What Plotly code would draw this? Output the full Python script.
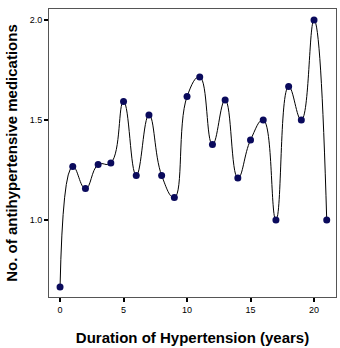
import plotly.graph_objects as go

years = [0, 1, 2, 3, 4, 5, 6, 7, 8, 9, 10, 11, 12, 13, 14, 15, 16, 17, 18, 19, 20, 21]
meds = [0.665, 1.267, 1.157, 1.277, 1.285, 1.592, 1.223, 1.525, 1.223, 1.112, 1.617,
        1.715, 1.377, 1.600, 1.210, 1.400, 1.500, 1.000, 1.667, 1.500, 2.000, 1.000]
x_ticks = [0, 5, 10, 15, 20]
y_ticks = [1.0, 1.5, 2.0]

fig = go.Figure()
fig.add_trace(go.Scatter(
    x=years, y=meds, mode="lines",
    line=dict(color="black", width=1, shape="spline", smoothing=1.3),
    hoverinfo="skip", showlegend=False))
fig.add_trace(go.Scatter(
    x=years, y=meds, mode="markers",
    marker=dict(color="#0a0a5c", size=7, line=dict(width=0)),
    showlegend=False))

axis_common = dict(
    showgrid=False, zeroline=False, showline=True, linecolor="#555555", linewidth=1,
    mirror=True, ticks="outside", ticklen=4, tickcolor="black", tickwidth=2,
    tickfont=dict(family="Liberation Sans, Arial", size=9, color="black"),
)
fig.update_xaxes(range=[-0.87, 21.73], tickvals=x_ticks,
                 title=dict(text="<b>Duration of Hypertension (years)</b>",
                            font=dict(family="Liberation Sans, Arial", size=15, color="black"),
                            standoff=18),
                 **axis_common)
fig.update_yaxes(range=[0.615, 2.055], tickvals=y_ticks, tickformat=".1f",
                 title=dict(text="<b>No. of antihypertensive medications</b>",
                            font=dict(family="Liberation Sans, Arial", size=15, color="black"),
                            standoff=8),
                 **axis_common)
fig.update_layout(
    width=340, height=348,
    margin=dict(l=49, r=4, t=9, b=51),
    paper_bgcolor="white", plot_bgcolor="white",
)
fig.write_html("out.html")
